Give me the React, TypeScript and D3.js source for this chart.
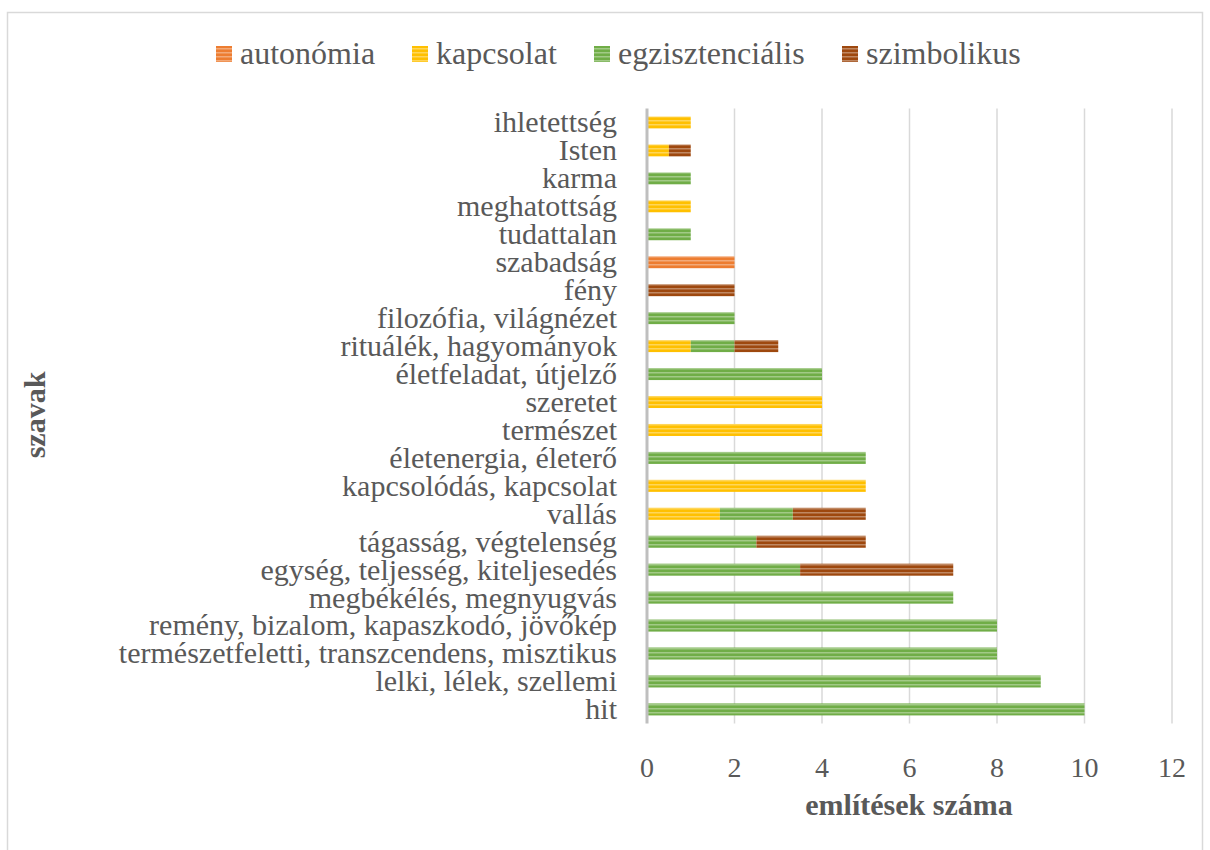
import * as d3 from 'd3';

const W = 1210;
const H = 850;
const MARGIN = { top: 108.6, left: 647, right: 1210 - 1172, bottom: 850 - 723.4 };

// categories, top of the chart first
const words = [
    'ihletettség', 'Isten', 'karma', 'meghatottság', 'tudattalan', 'szabadság', 'fény',
    'filozófia, világnézet', 'rituálék, hagyományok', 'életfeladat, útjelző', 'szeretet',
    'természet', 'életenergia, életerő', 'kapcsolódás, kapcsolat', 'vallás',
    'tágasság, végtelenség', 'egység, teljesség, kiteljesedés', 'megbékélés, megnyugvás',
    'remény, bizalom, kapaszkodó, jövőkép', 'természetfeletti, transzcendens, misztikus',
    'lelki, lélek, szellemi', 'hit',
];

const autonomia = [0, 0, 0, 0, 0, 2, 0, 0, 0, 0, 0, 0, 0, 0, 0, 0, 0, 0, 0, 0, 0, 0];
const kapcsolat = [1, 0.5, 0, 1, 0, 0, 0, 0, 1, 0, 4, 4, 0, 5, 5 / 3, 0, 0, 0, 0, 0, 0, 0];
const egzisztencialis = [0, 0, 1, 0, 1, 0, 0, 2, 1, 4, 0, 0, 5, 0, 5 / 3, 2.5, 3.5, 7, 8, 8, 9, 10];
const szimbolikus = [0, 0.5, 0, 0, 0, 0, 2, 0, 1, 0, 0, 0, 0, 0, 5 / 3, 2.5, 3.5, 0, 0, 0, 0, 0];

const seriesNames = ['autonómia', 'kapcsolat', 'egzisztenciális', 'szimbolikus'];
const seriesColors = ['#ED7D31', '#FFC000', '#70AD47', '#9E480E'];
const xTicks = [0, 2, 4, 6, 8, 10, 12];

const FONT = '"Liberation Serif", "Times New Roman", serif';
const TEXT = '#595959';

const rows = words.map((w, i) => ({
    word: w,
    autonomia: autonomia[i],
    kapcsolat: kapcsolat[i],
    egzisztencialis: egzisztencialis[i],
    szimbolikus: szimbolikus[i],
}));
const keys = ['autonomia', 'kapcsolat', 'egzisztencialis', 'szimbolikus'];

export default function App() {
    const x = d3.scaleLinear().domain([0, 12]).range([MARGIN.left, W - MARGIN.right]);
    const y = d3
        .scaleBand()
        .domain(words)
        .range([MARGIN.top, H - MARGIN.bottom])
        .paddingInner(0.55)
        .paddingOuter(0.275);
    const stacked = d3.stack<any>().keys(keys)(rows);
    const barH = 12;

    const legendX = [216, 412, 594, 842];

    return (
        <div style={{ position: 'absolute', left: 0, top: 0 }}>
            <svg width={W} height={H} style={{ display: 'block', background: '#fff' }}>
                <defs>
                    {seriesColors.map((c, i) => (
                        <pattern key={i} id={`stripe${i}`} patternUnits="userSpaceOnUse" width={8} height={4}>
                            <rect width={8} height={4} fill={c} />
                            <rect y={0} width={8} height={1.5} fill="#fff" opacity={0.35} />
                        </pattern>
                    ))}
                </defs>
                <rect x={7.5} y={12.5} width={1195} height={850} fill="none" stroke="#d9d9d9" strokeWidth={1.5} />

                {/* legend */}
                {seriesNames.map((n, i) => (
                    <g key={n}>
                        <rect x={legendX[i]} y={46} width={16} height={16} fill={`url(#stripe${i})`} />
                        <text x={legendX[i] + 24} y={64} fontFamily={FONT} fontSize={32} fill={TEXT}>{n}</text>
                    </g>
                ))}

                {/* grid */}
                {xTicks.map((t) => (
                    <g key={t}>
                        {t > 0 && (
                            <line x1={x(t)} x2={x(t)} y1={MARGIN.top} y2={H - MARGIN.bottom} stroke="#d9d9d9" strokeWidth={1.5} />
                        )}
                        <text x={x(t)} y={777} textAnchor="middle" fontFamily={FONT} fontSize={28} fill={TEXT}>{t}</text>
                    </g>
                ))}

                {/* bars */}
                {stacked.map((s, si) => (
                    <g key={s.key} fill={`url(#stripe${si})`}>
                        {s.map((d, i) => {
                            const w = x(d[1]) - x(d[0]);
                            if (w <= 0) return null;
                            const cy = (y(words[i]) ?? 0) + y.bandwidth() / 2;
                            return <rect key={i} x={x(d[0])} y={cy - barH / 2} width={w} height={barH} />;
                        })}
                    </g>
                ))}

                <line x1={x(0)} x2={x(0)} y1={MARGIN.top} y2={H - MARGIN.bottom} stroke="#bfbfbf" strokeWidth={3} />

                {/* category labels */}
                {words.map((w) => (
                    <text
                        key={w}
                        x={617}
                        y={(y(w) ?? 0) + y.bandwidth() / 2}
                        dy="0.33em"
                        textAnchor="end"
                        fontFamily={FONT}
                        fontSize={30}
                        fill={TEXT}
                    >
                        {w}
                    </text>
                ))}

                {/* axis titles */}
                <text x={909} y={815} textAnchor="middle" fontFamily={FONT} fontSize={30} fontWeight="bold" fill={TEXT}>
                    említések száma
                </text>
                <text
                    transform={`translate(45,${415}) rotate(-90)`}
                    textAnchor="middle"
                    fontFamily={FONT}
                    fontSize={30}
                    fontWeight="bold"
                    fill={TEXT}
                >
                    szavak
                </text>
            </svg>
        </div>
    );
}
